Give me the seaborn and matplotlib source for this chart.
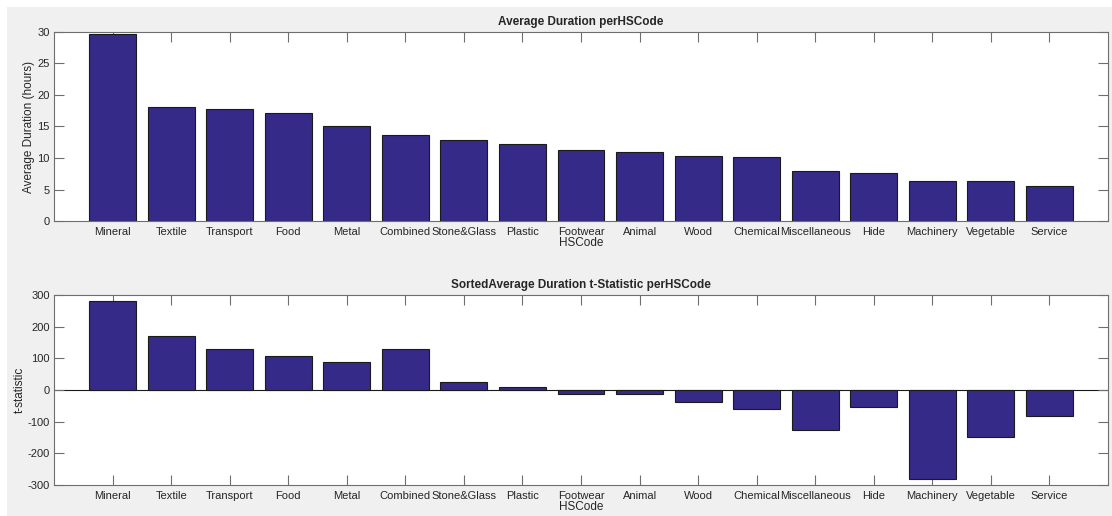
import matplotlib
matplotlib.use('Agg')
import matplotlib.pyplot as plt
from matplotlib.patches import Rectangle
import seaborn as sns
import pandas as pd

hs_codes = ['Mineral', 'Textile', 'Transport', 'Food', 'Metal', 'Combined',
            'Stone&Glass', 'Plastic', 'Footwear', 'Animal', 'Wood', 'Chemical',
            'Miscellaneous', 'Hide', 'Machinery', 'Vegetable', 'Service']
avg_duration = [29.7, 18.1, 17.7, 17.1, 15.0, 13.6, 12.9, 12.3, 11.2, 11.0,
                10.3, 10.1, 7.95, 7.6, 6.4, 6.35, 5.6]
t_stat = [280, 169, 129, 107, 90, 128, 25, 9, -13, -13, -37, -60, -125,
          -55, -282, -147, -83]

bar_color = '#352a87'
text_color = '#262626'
frame_color = '#6e6e6e'

sns.set_style('white')
plt.rcParams['font.family'] = ['Liberation Sans', 'DejaVu Sans']
plt.rcParams['font.size'] = 8
plt.rcParams['axes.unicode_minus'] = False

df = pd.DataFrame({'HSCode': hs_codes, 'duration': avg_duration, 'tstat': t_stat})

fig = plt.figure(figsize=(11.12, 5.16), dpi=100, facecolor='white')
fig.patches.append(Rectangle((7 / 1112, 0), 1, 1 - 7 / 516, transform=fig.transFigure,
                             facecolor='#f0f0f0', edgecolor='none', zorder=-10))

ax1 = fig.add_axes([0.0486, 0.5717, 0.9478, 0.3663])
ax2 = fig.add_axes([0.0486, 0.0600, 0.9478, 0.3683])


def style_axes(ax, ylim, yticks, title, ylabel, ypad):
    ax.set_facecolor('white')
    ax.set_xlim(-1, 17)
    ax.set_ylim(*ylim)
    ax.set_yticks(yticks)
    ax.set_title(title, fontsize=8.5, fontweight='bold', color=text_color, pad=5)
    ax.set_ylabel(ylabel, fontsize=8.5, color=text_color, labelpad=ypad)
    ax.set_xlabel('HSCode', fontsize=8.5, color=text_color, labelpad=0)
    ax.tick_params(axis='both', direction='in', length=7.5, width=0.8,
                   colors=frame_color, labelcolor=text_color, labelsize=8,
                   top=True, right=True, bottom=True, left=True)
    ax.tick_params(axis='x', pad=4.5)
    ax.tick_params(axis='y', pad=3)
    for sp in ax.spines.values():
        sp.set_visible(True)
        sp.set_color(frame_color)
        sp.set_linewidth(0.8)


sns.barplot(data=df, x='HSCode', y='duration', color=bar_color, saturation=1,
            edgecolor='#1a1a1a', linewidth=0.8, width=0.8, ax=ax1)
style_axes(ax1, (0, 30), range(0, 31, 5), 'Average Duration perHSCode',
           'Average Duration (hours)', 2)

sns.barplot(data=df, x='HSCode', y='tstat', color=bar_color, saturation=1,
            edgecolor='#1a1a1a', linewidth=0.8, width=0.8, ax=ax2)
ax2.axhline(0, color='#1a1a1a', lw=0.8, zorder=0.5)
style_axes(ax2, (-300, 300), range(-300, 301, 100),
           'SortedAverage Duration t-Statistic perHSCode', 't-statistic', 1)

fig.savefig('out.png', dpi=100, facecolor=fig.get_facecolor())
